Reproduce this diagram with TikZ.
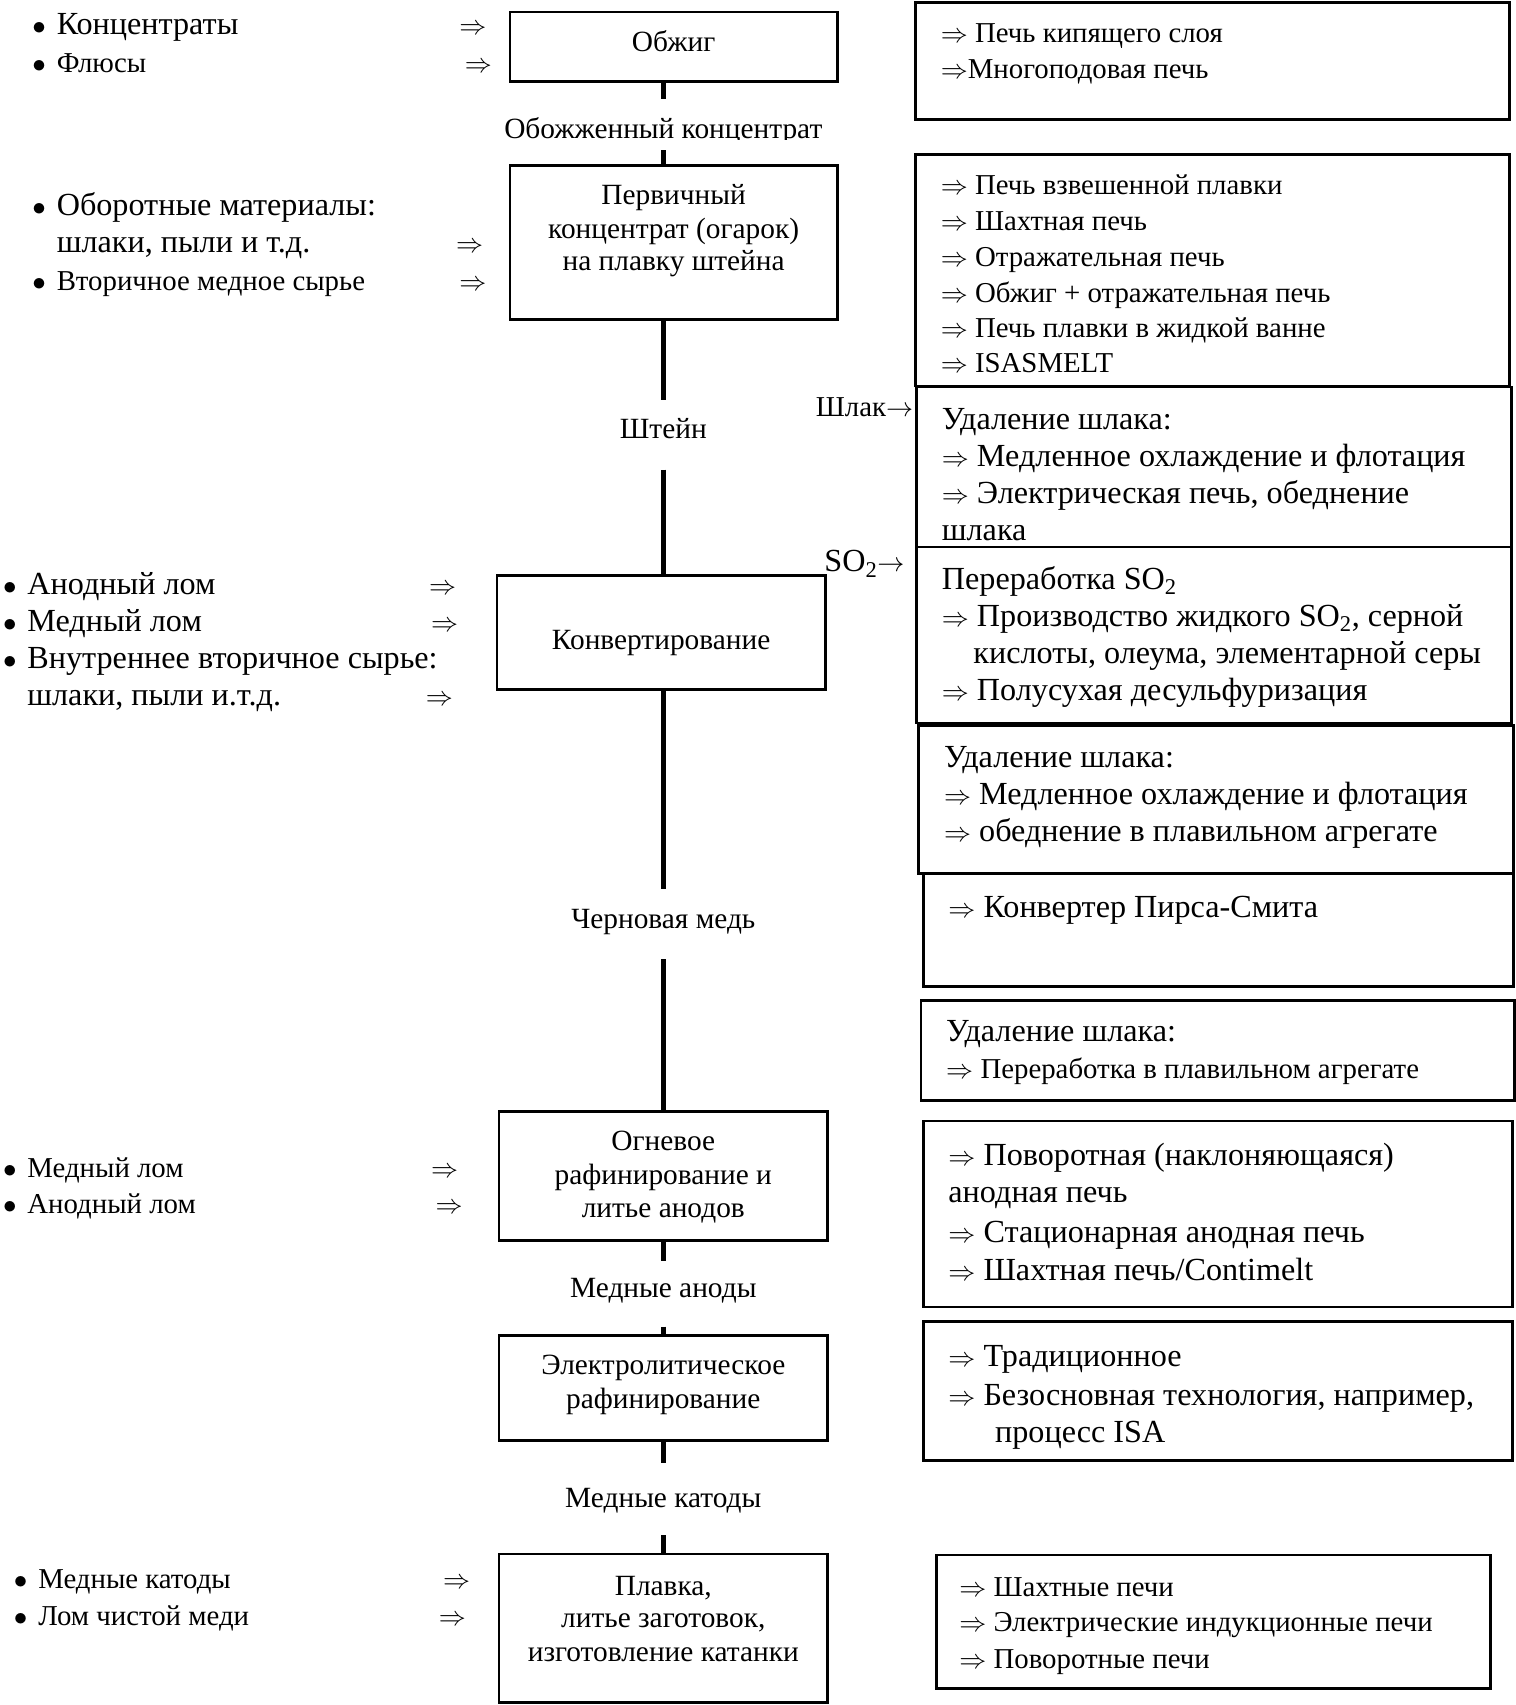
\documentclass[tikz,border=0pt]{standalone}
\usepackage{fontspec}
\setmainfont{Liberation Serif}
\newcommand{\RA}{$\Rightarrow$}
\newcommand{\bul}{\llap{$\bullet$\hspace{10pt}}}
\begin{document}
\begin{tikzpicture}[x=1pt,y=-1pt,
  sm/.style={font=\fontsize{26.5}{31}\selectfont, inner sep=0pt, anchor=base west},
  lg/.style={font=\fontsize{29.6}{34}\selectfont, inner sep=0pt, anchor=base west},
  ctr/.style={font=\fontsize{27}{31}\selectfont, inner sep=0pt, anchor=base},
  arr/.style={font=\fontsize{26.5}{31}\selectfont, inner sep=0pt, anchor=base},
  box/.style={draw, line width=2.5pt, inner sep=0pt},
  link/.style={line width=5pt}]
\useasboundingbox (0,0) rectangle (1394,1568);

% ---------- central boxes ----------
\node[box, minimum width=301pt, minimum height=64pt]  (b1) at (619.5,43) {};
\node[box, minimum width=301pt, minimum height=142pt] (b2) at (619.5,223) {};
\node[box, minimum width=302pt, minimum height=105pt] (b3) at (608,581.5) {};
\node[box, minimum width=302pt, minimum height=119pt] (b4) at (610,1081.5) {};
\node[box, minimum width=302pt, minimum height=97pt]  (b5) at (610,1276.5) {};
\node[box, minimum width=302pt, minimum height=137pt] (b6) at (610,1497.5) {};

\node[ctr] (t1)  at (619.5,47) {Обжиг};
\node[ctr] (t2a) at (619.5,188) {Первичный};
\node[ctr] (t2b) at (619.5,219) {концентрат (огарок)};
\node[ctr] (t2c) at (619.5,249) {на плавку штейна};
\node[ctr] (t3)  at (608,597) {Конвертирование};
\node[ctr] (t4a) at (610,1058) {Огневое};
\node[ctr] (t4b) at (610,1089) {рафинирование и};
\node[ctr] (t4c) at (610,1120) {литье анодов};
\node[ctr] (t5a) at (610,1264) {Электролитическое};
\node[ctr] (t5b) at (610,1295) {рафинирование};
\node[ctr] (t6a) at (610,1467) {Плавка,};
\node[ctr] (t6b) at (610,1497) {литье заготовок,};
\node[ctr] (t6c) at (610,1528) {изготовление катанки};

% ---------- flow labels and connectors ----------
\begin{scope}
\clip (440,95) rectangle (800,128.5);
\node[ctr] (f1) at (610,127) {Обожженный концентрат};
\end{scope}
\node[ctr] (f2) at (610,403) {Штейн};
\node[ctr] (f3) at (610,854) {Черновая медь};
\node[ctr] (f4) at (610,1193) {Медные аноды};
\node[ctr] (f5) at (610,1386) {Медные катоды};

\coordinate (c1a) at (610,91);   \coordinate (c1b) at (610,138);
\coordinate (c2a) at (610,368);  \coordinate (c2b) at (610,432);
\coordinate (c3a) at (610,818);  \coordinate (c3b) at (610,882);
\coordinate (c4a) at (610,1160); \coordinate (c4b) at (610,1220);
\coordinate (c5a) at (610,1345); \coordinate (c5b) at (610,1412);

\draw[link] (b1.south -| c1a) -- (c1a);  \draw[link] (c1b) -- (b2.north -| c1b);
\draw[link] (b2.south -| c2a) -- (c2a);  \draw[link] (c2b) -- (b3.north -| c2b);
\draw[link] (b3.south -| c3a) -- (c3a);  \draw[link] (c3b) -- (b4.north -| c3b);
\draw[link] (b4.south -| c4a) -- (c4a);  \draw[link] (c4b) -- (b5.north -| c4b);
\draw[link] (b5.south -| c5a) -- (c5a);  \draw[link] (c5b) -- (b6.north -| c5b);

% ---------- left inputs ----------
\node[lg] (l1)  at (52,32)  {\bul Концентраты};
\node[arr] (a1) at (435,32) {\RA};
\node[sm] (l2)  at (52,67)  {\bul Флюсы};
\node[arr] (a2) at (440,67) {\RA};
\node[lg] (l3)  at (52,198) {\bul Оборотные материалы:};
\node[lg] (l3b) at (52,232) {шлаки, пыли и т.д.};
\node[arr] (a3) at (432,232) {\RA};
\node[sm] (l4)  at (52,267) {\bul Вторичное медное сырье};
\node[arr] (a4) at (435,267) {\RA};

\node[lg] (l5)  at (25,547) {\bul Анодный лом};
\node[arr] (a5) at (407,547) {\RA};
\node[lg] (l6)  at (25,581) {\bul Медный лом};
\node[arr] (a6) at (409,581) {\RA};
\node[lg] (l7)  at (25,615) {\bul Внутреннее вторичное сырье:};
\node[lg] (l7b) at (25,649) {шлаки, пыли и.т.д.};
\node[arr] (a7) at (404,649) {\RA};

\node[sm] (l8)  at (25,1083) {\bul Медный лом};
\node[arr] (a8) at (409,1083) {\RA};
\node[sm] (l9)  at (25,1116) {\bul Анодный лом};
\node[arr] (a9) at (413,1116) {\RA};

\node[sm] (l10) at (35,1461) {\bul Медные катоды};
\node[arr] (a10) at (420,1461) {\RA};
\node[sm] (l11) at (35,1495) {\bul Лом чистой меди};
\node[arr] (a11) at (416,1495) {\RA};

% ---------- right boxes ----------
\node[box, minimum width=546pt, minimum height=108pt] (r1)  at (1115,56) {};
\node[box, minimum width=546pt, minimum height=213pt] (r2)  at (1115,248.5) {};
\node[box, minimum width=547pt, minimum height=147pt] (r3)  at (1116.5,429.5) {};
\node[box, minimum width=547pt, minimum height=162pt] (r4)  at (1116.5,584) {};
\node[box, minimum width=547pt, minimum height=136pt] (r5)  at (1118.5,735) {};
\node[box, minimum width=543pt, minimum height=104pt] (r6)  at (1120.5,855) {};
\node[box, minimum width=546pt, minimum height=92pt]  (r7)  at (1120,966) {};
\node[box, minimum width=542pt, minimum height=171pt] (r8)  at (1120,1116.5) {};
\node[box, minimum width=542pt, minimum height=128pt] (r9)  at (1120,1279) {};
\node[box, minimum width=510pt, minimum height=123pt] (r10) at (1116,1491.5) {};

\node[sm] (r1a) at (865,39) {\RA{} Печь кипящего слоя};
\node[sm] (r1b) at (865,72) {\RA Многоподовая печь};

\node[sm] (r2a) at (865,179) {\RA{} Печь взвешенной плавки};
\node[sm] (r2b) at (865,212) {\RA{} Шахтная печь};
\node[sm] (r2c) at (865,245) {\RA{} Отражательная печь};
\node[sm] (r2d) at (865,278) {\RA{} Обжиг + отражательная печь};
\node[sm] (r2e) at (865,310) {\RA{} Печь плавки в жидкой ванне};
\node[sm] (r2f) at (865,343) {\RA{} ISASMELT};

\node[lg] (r3a) at (866,395) {Удаление шлака:};
\node[lg] (r3b) at (866,429) {\RA{} Медленное охлаждение и флотация};
\node[lg] (r3c) at (866,463) {\RA{} Электрическая печь, обеднение};
\node[lg] (r3d) at (866,497) {шлака};

\node[lg] (r4a) at (866,542) {Переработка SO\textsubscript{2}};
\node[lg] (r4b) at (866,576) {\RA{} Производство жидкого SO\textsubscript{2}, серной};
\node[lg] (r4c) at (895,610) {кислоты, олеума, элементарной серы};
\node[lg] (r4d) at (866,644) {\RA{} Полусухая десульфуризация};

\node[lg] (r5a) at (868,706) {Удаление шлака:};
\node[lg] (r5b) at (868,740) {\RA{} Медленное охлаждение и флотация};
\node[lg] (r5c) at (868,774) {\RA{} обеднение в плавильном агрегате};

\node[lg] (r6a) at (872,844) {\RA{} Конвертер Пирса-Смита};

\node[lg] (r7a) at (870,958) {Удаление шлака:};
\node[sm] (r7b) at (870,992) {\RA{} Переработка в плавильном агрегате};

\node[lg] (r8a) at (872,1072) {\RA{} Поворотная (наклоняющаяся)};
\node[lg] (r8b) at (872,1106) {анодная печь};
\node[lg] (r8c) at (872,1143) {\RA{} Стационарная анодная печь};
\node[lg] (r8d) at (872,1178) {\RA{} Шахтная печь/Contimelt};

\node[lg] (r9a) at (872,1257) {\RA{} Традиционное};
\node[lg] (r9b) at (872,1293) {\RA{} Безосновная технология, например,};
\node[lg] (r9c) at (915,1327) {процесс ISA};

\node[sm] (r10a) at (882,1468) {\RA{} Шахтные печи};
\node[sm] (r10b) at (882,1500) {\RA{} Электрические индукционные печи};
\node[sm] (r10c) at (882,1534) {\RA{} Поворотные печи};

% ---------- side outputs ----------
\node[sm, anchor=base east] (s1) at (840,383) {Шлак$\rightarrow$};
\node[lg, anchor=base east] (s2) at (832,526) {SO\textsubscript{2}$\rightarrow$};
\end{tikzpicture}
\end{document}
